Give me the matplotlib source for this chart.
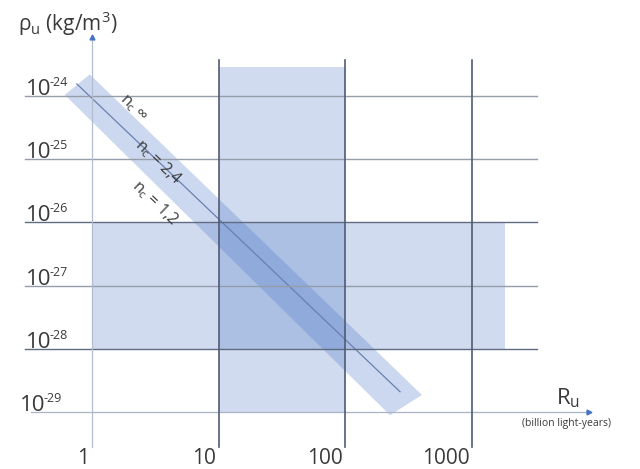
import numpy as np
import matplotlib
matplotlib.use("Agg")
import matplotlib.pyplot as plt

plt.rcParams['font.family'] = ['Open Sans', 'DejaVu Sans']
plt.rcParams['mathtext.fontset'] = 'custom'
plt.rcParams['mathtext.rm'] = 'Open Sans'

# axis values
r_ticks = [1, 10, 100, 1000]
r_tick_labels = ["1", "10", "100", "1000"]
rho_exponents = [-24, -25, -26, -27, -28, -29]

# shaded regions (R in billion light-years, rho in kg/m^3)
rect_v_r = [10, 100]
rect_v_rho = [1e-29, 2.9e-24]
rect_h_r = [1, 1820]
rect_h_rho = [1e-28, 1e-26]

# diagonal band (n_c from infinity to 1.2) and the n_c = 2.4 line
band_r = [0.61, 0.96, 402, 225]
band_rho = [1.04e-24, 2.2e-24, 1.86e-29, 8.9e-30]
mid_r = [0.76, 270]
mid_rho = [1.55e-24, 2.09e-29]

band_labels = ["n$_\\mathregular{c}$ ∞", "n$_\\mathregular{c}$ = 2,4", "n$_\\mathregular{c}$ = 1,2"]

blue = "#4472c4"
text_col = "#3a3a3a"

fig = plt.figure(figsize=(6.4, 4.69), dpi=100)
ax = fig.add_axes([0, 0, 1, 1])
ax.set_xscale('log')
ax.set_yscale('log')
ax.set_xlim(10 ** -0.726, 10 ** 4.325)
ax.set_ylim(10 ** -29.902, 10 ** -22.481)
ax.axis('off')

# shaded rectangles
ax.fill_between(rect_v_r, rect_v_rho[0], rect_v_rho[1], color=blue, alpha=0.25, lw=0, zorder=1)
ax.fill_between(rect_h_r, rect_h_rho[0], rect_h_rho[1], color=blue, alpha=0.25, lw=0, zorder=1)

# band
ax.fill(band_r, band_rho, color=blue, alpha=0.27, lw=0, zorder=2)
ax.plot(mid_r, mid_rho, color="#6a80b0", lw=0.9, zorder=3)

# horizontal grid lines
for e in rho_exponents[:-1]:
    dark = e in (-26, -28)
    ax.plot([0.296, 3240], [10.0 ** e] * 2, color="#606b82" if dark else "#959daa",
            lw=1.0, zorder=4)
# R axis
ax.plot([0.33, 8000], [1e-29, 1e-29], color="#aab4c6", lw=0.9, zorder=4)
ax.plot([8400], [1e-29], marker='>', ms=3.5, color=blue, zorder=5)

# vertical lines
ax.plot([1, 1], [2.8e-30, 7.5e-24], color="#b3bdd0", lw=0.9, zorder=4)
ax.plot([1], [8.6e-24], marker='^', ms=3.5, color=blue, zorder=5)
for r in r_ticks[1:]:
    ax.plot([r, r], [2.8e-30, 3.7e-24], color="#505b74", lw=1.2, zorder=4)

# x tick labels
for r, lab in zip(r_ticks, r_tick_labels):
    ax.text(r * 0.95, 10 ** -29.73, lab, ha='right', va='center', fontsize=15, color=text_col)

# y tick labels
fig.canvas.draw()
renderer = fig.canvas.get_renderer()
for e in rho_exponents:
    x0 = 0.27 if e == -29 else 0.30
    t = ax.text(x0, 10.0 ** e * 1.04, "10", ha='left', va='baseline', fontsize=16, color=text_col)
    bb = t.get_window_extent(renderer)
    xf, yf = fig.transFigure.inverted().transform((bb.x1 - 2, bb.y0 + 14))
    fig.text(xf, yf, str(e), ha='left', va='baseline', fontsize=9, color=text_col)

# axis titles
fig.text(18 / 640, 1 - 24 / 469, "ρ$_\\mathregular{u}$ (kg/m$^\\mathregular{3}$)", ha='left',
         va='center', fontsize=15, color=text_col)
fig.text(556 / 640, 1 - 404 / 469, "R$_\\mathregular{u}$", ha='left', va='baseline',
         fontsize=16, color=text_col)
fig.text(566 / 640, 1 - 423 / 469, "(billion light-years)", ha='center', va='center',
         fontsize=7.5, color=text_col)

# band labels, rotated along the band
p0 = ax.transData.transform((mid_r[0], mid_rho[0]))
p1 = ax.transData.transform((mid_r[1], mid_rho[1]))
angle = np.degrees(np.arctan2(p1[1] - p0[1], p1[0] - p0[0]))
label_px = [(133, 108), (158, 162), (155, 203)]
for lab, (px, py) in zip(band_labels, label_px):
    fig.text(px / 640, 1 - py / 469, lab, ha='center', va='center', rotation=angle,
             rotation_mode='anchor', fontsize=11.5, color=text_col)

fig.savefig("out.png", dpi=100, facecolor='white')
